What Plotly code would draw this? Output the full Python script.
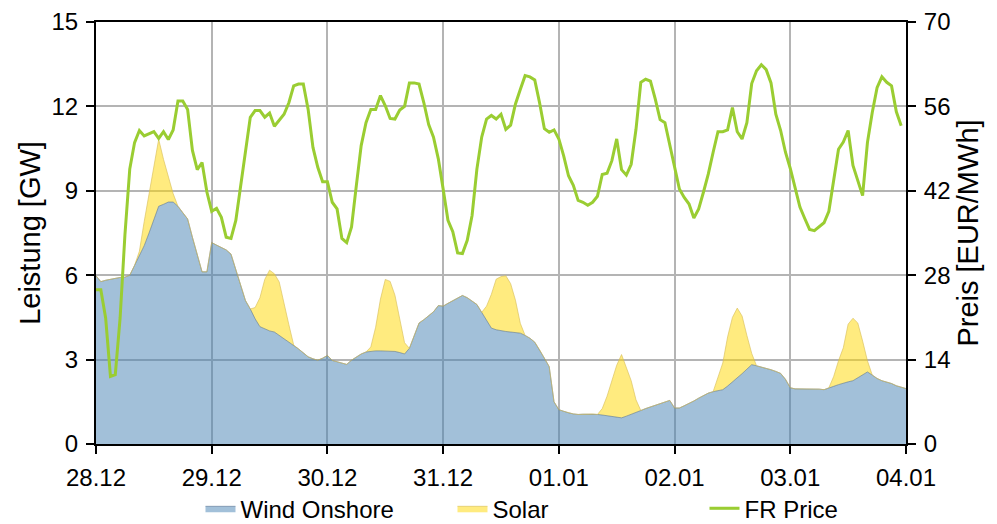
import pandas as pd
import plotly.graph_objects as go

# hourly values, 28.12 00:00 .. 04.01 00:00
wind_onshore = [
    5.98, 5.77, 5.82, 5.86, 5.90, 5.92, 5.93, 6.00, 6.35, 6.70, 7.05, 7.50,
    8.00, 8.45, 8.52, 8.60, 8.60, 8.45, 8.22, 8.00, 7.35, 6.70, 6.12, 6.12,
    7.16, 7.07, 6.98, 6.90, 6.75, 6.20, 5.65, 5.10, 4.80, 4.45, 4.17, 4.10,
    4.02, 3.98, 3.86, 3.75, 3.64, 3.52, 3.38, 3.24, 3.10, 3.03, 2.98, 3.05,
    3.15, 2.97, 2.92, 2.86, 2.83, 2.98, 3.10, 3.20, 3.27, 3.30, 3.31, 3.31,
    3.30, 3.30, 3.29, 3.25, 3.20, 3.40, 3.85, 4.30, 4.42, 4.55, 4.70, 4.92,
    4.90, 5.00, 5.10, 5.20, 5.28, 5.20, 5.08, 4.96, 4.68, 4.40, 4.12, 4.06,
    4.02, 4.00, 3.98, 3.96, 3.94, 3.86, 3.76, 3.62, 3.35, 3.05, 2.75, 1.50,
    1.22, 1.16, 1.11, 1.07, 1.05, 1.06, 1.06, 1.07, 1.05, 1.03, 1.00, 0.98,
    0.95, 0.93, 0.99, 1.05, 1.12, 1.19, 1.26, 1.32, 1.38, 1.44, 1.50, 1.55,
    1.28, 1.28, 1.36, 1.44, 1.53, 1.63, 1.72, 1.81, 1.86, 1.90, 1.93, 2.06,
    2.20, 2.33, 2.50, 2.66, 2.82, 2.78, 2.74, 2.70, 2.64, 2.58, 2.51, 2.30,
    2.00, 1.96, 1.96, 1.97, 1.97, 1.96, 1.95, 1.93, 2.00, 2.05, 2.11, 2.17,
    2.21, 2.25, 2.35, 2.46, 2.56, 2.45, 2.33, 2.25, 2.20, 2.15, 2.07, 2.02,
    1.97,
]

solar = [
    0, 0, 0, 0, 0, 0, 0, 0, 0, 0.15, 0.86, 1.40,
    1.94, 2.38, 1.60, 0.94, 0.30, 0, 0, 0, 0, 0, 0, 0,
    0, 0, 0, 0, 0, 0, 0, 0, 0, 0.40, 1.03, 1.75,
    2.16, 2.07, 1.90, 1.20, 0.60, 0, 0, 0, 0, 0, 0, 0,
    0, 0, 0, 0, 0, 0, 0, 0, 0, 0.15, 0.84, 1.84,
    2.55, 2.48, 2.00, 1.25, 0.40, 0, 0, 0, 0, 0, 0, 0,
    0, 0, 0, 0, 0, 0, 0, 0, 0, 0.50, 1.20, 1.80,
    1.93, 1.98, 1.72, 1.15, 0.35, 0, 0, 0, 0, 0, 0, 0,
    0, 0, 0, 0, 0, 0, 0, 0, 0, 0.23, 0.70, 1.30,
    1.85, 2.25, 1.70, 1.20, 0.45, 0, 0, 0, 0, 0, 0, 0,
    0, 0, 0, 0, 0, 0, 0, 0, 0, 0.45, 0.95, 1.75,
    2.30, 2.50, 2.05, 1.20, 0.40, 0, 0, 0, 0, 0, 0, 0,
    0, 0, 0, 0, 0, 0, 0, 0, 0, 0.35, 0.85, 1.25,
    2.05, 2.22, 1.95, 1.20, 0.40, 0, 0, 0, 0, 0, 0, 0,
    0,
]

fr_price = [
    25.6, 25.6, 20.9, 11.2, 11.5, 20.9, 34.7, 45.6, 50.0, 52.0, 51.1, 51.5,
    51.8, 50.7, 51.8, 50.5, 52.1, 56.9, 56.9, 55.5, 48.7, 45.5, 46.7, 41.8,
    38.6, 39.1, 37.6, 34.3, 34.1, 37.1, 42.9, 48.9, 54.2, 55.3, 55.3, 54.2,
    54.9, 52.7, 53.7, 54.7, 56.6, 59.4, 59.7, 59.7, 55.5, 49.2, 45.9, 43.5,
    43.5, 40.1, 39.0, 34.1, 33.4, 36.0, 42.9, 49.5, 53.3, 55.5, 55.5, 57.8,
    56.1, 54.0, 53.9, 55.4, 56.0, 59.9, 59.9, 59.7, 56.6, 53.0, 50.9, 47.3,
    42.3, 37.1, 35.2, 31.7, 31.6, 33.8, 37.9, 45.6, 50.9, 53.9, 54.5, 53.9,
    54.7, 52.2, 52.9, 56.4, 58.8, 61.1, 60.9, 60.4, 56.6, 52.3, 51.7, 52.1,
    50.6, 47.8, 44.5, 42.9, 40.4, 40.1, 39.6, 40.1, 41.1, 44.7, 44.9, 47.0,
    50.6, 45.5, 44.6, 46.4, 52.2, 60.0, 60.5, 60.2, 57.2, 53.8, 53.3, 49.5,
    46.2, 42.3, 40.9, 39.8, 37.5, 39.0, 41.8, 44.8, 48.4, 51.8, 51.8, 52.1,
    55.8, 51.8, 50.6, 53.3, 59.8, 61.9, 62.9, 62.1, 59.9, 54.7, 52.0, 48.4,
    45.7, 42.3, 39.3, 37.4, 35.6, 35.4, 36.0, 36.7, 38.6, 43.7, 48.9, 50.1,
    52.0, 46.2, 43.7, 41.2, 50.0, 55.0, 59.1, 60.9, 60.0, 59.4, 55.1, 52.8,
]

START = "2020-12-28 00:00"
END = "2021-01-04 00:00"

FONT = "Liberation Sans, Arial, sans-serif"
GRID = "#b4b4b4"

times = pd.date_range(START, periods=len(wind_onshore), freq="h")
price_times = pd.date_range(START, periods=len(fr_price), freq="h")

fig = go.Figure()
fig.add_trace(
    go.Scatter(
        x=times,
        y=wind_onshore,
        name="Wind Onshore",
        mode="lines",
        stackgroup="gen",
        line=dict(color="rgba(80,110,140,0.7)", width=0.8),
        fillcolor="rgba(70,130,180,0.5)",
    )
)
fig.add_trace(
    go.Scatter(
        x=times,
        y=solar,
        name="Solar",
        mode="lines",
        stackgroup="gen",
        line=dict(color="rgba(215,190,90,0.8)", width=0.8),
        fillcolor="rgba(255,215,0,0.5)",
    )
)
fig.add_trace(
    go.Scatter(
        x=price_times,
        y=fr_price,
        name="FR Price",
        mode="lines",
        yaxis="y2",
        line=dict(color="#9acd32", width=3),
    )
)

axis_common = dict(
    showline=True,
    linecolor="black",
    linewidth=2,
    ticks="outside",
    ticklen=8,
    tickwidth=1.5,
    tickcolor="black",
    ticklabelstandoff=3,
    ticklabeloverflow="allow",
    zeroline=False,
)

# page body keeps an 8px margin, so the figure is 8px smaller than the window
fig.update_layout(
    width=989,
    height=516,
    margin=dict(l=88, r=91, t=14, b=80, autoexpand=False),
    paper_bgcolor="white",
    plot_bgcolor="white",
    font=dict(family=FONT, size=24, color="black"),
    showlegend=True,
    legend=dict(
        orientation="h",
        traceorder="normal",
        x=0.129,
        xanchor="left",
        y=-0.1,
        yanchor="top",
        entrywidth=207,
        font=dict(size=24),
    ),
    xaxis=dict(
        range=[START, END],
        tickformat="%d.%m",
        dtick=86400000,
        tick0=START,
        showgrid=True,
        gridcolor=GRID,
        gridwidth=1.5,
        mirror=True,
        **axis_common,
    ),
    yaxis=dict(
        title=dict(text="Leistung [GW]", standoff=2),
        range=[0, 15],
        dtick=3,
        showgrid=True,
        gridcolor=GRID,
        gridwidth=1.5,
        mirror=True,
        **axis_common,
    ),
    yaxis2=dict(
        title=dict(text="Preis [EUR/MWh]", standoff=8),
        range=[0, 70],
        dtick=14,
        overlaying="y",
        side="right",
        showgrid=False,
        **axis_common,
    ),
)

fig.write_html("out.html")
